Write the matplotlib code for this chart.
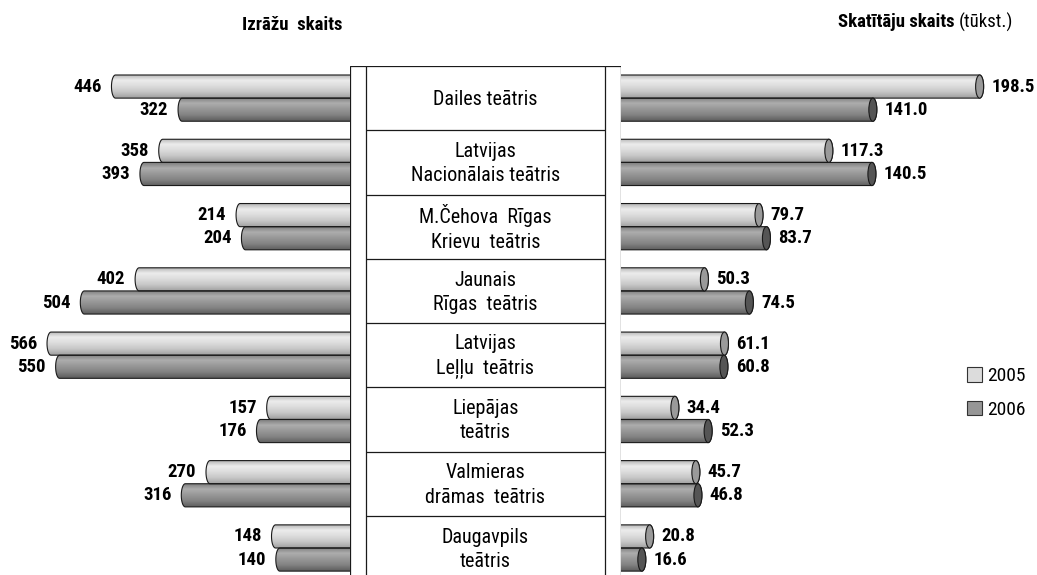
import numpy as np
import matplotlib.pyplot as plt
from matplotlib.patches import Rectangle, Ellipse, Polygon, Patch
from matplotlib.colors import LinearSegmentedColormap

plt.rcParams['font.family'] = ['Roboto Condensed', 'Liberation Sans Narrow', 'DejaVu Sans']
plt.rcParams['font.stretch'] = 'condensed'

teatri = ['Dailes teātris', 'Latvijas\nNacionālais teātris', 'M.Čehova  Rīgas\nKrievu  teātris',
          'Jaunais\nRīgas  teātris', 'Latvijas\nLeļļu  teātris', 'Liepājas\nteātris',
          'Valmieras\ndrāmas  teātris', 'Daugavpils\nteātris']
izrades_2005 = [446, 358, 214, 402, 566, 157, 270, 148]
izrades_2006 = [322, 393, 204, 504, 550, 176, 316, 140]
skatitaji_2005 = [198.5, 117.3, 79.7, 50.3, 61.1, 34.4, 45.7, 20.8]
skatitaji_2006 = [141.0, 140.5, 83.7, 74.5, 60.8, 52.3, 46.8, 16.6]
gadi = ['2005', '2006']

W, H = 1037, 575
fig = plt.figure(figsize=(W / 100, H / 100), dpi=100)


def px_ax(x0, x1, y0=66, y1=575):
    return fig.add_axes([x0 / W, 1 - y1 / H, (x1 - x0) / W, (y1 - y0) / H])


n = len(teatri)
axL = px_ax(0, 355)
axL.set_xlim(661, 0)
axR = px_ax(611, W)
axR.set_xlim(0, 229.4)
axC = px_ax(350, 621)
axC.set_xlim(0, 1)
for ax in (axL, axR, axC):
    ax.set_ylim(7.42, -0.5)
    ax.axis('off')
axC.set_zorder(3)

cm05 = LinearSegmentedColormap.from_list('c05', ['#b0b0b0', '#ececec', '#dcdcdc', '#c6c6c6', '#a0a0a0'])
cm06 = LinearSegmentedColormap.from_list('c06', ['#7a7a7a', '#adadad', '#979797', '#828282', '#5e5e5e'])
grad = np.linspace(0, 1, 64).reshape(-1, 1)


def cylinder(ax, y, val, h, cmap, cap_color=None, cap_px=4):
    # half width of the end ellipse, in data units
    sx = abs(ax.transData.transform((1, 0))[0] - ax.transData.transform((0, 0))[0])
    a = cap_px / sx
    b = h / 2
    t = np.linspace(np.pi / 2, -np.pi / 2, 30)
    arc = np.column_stack([val + a * np.cos(t), y - b * np.sin(t)])
    verts = np.vstack([[0, y - b], arc, [0, y + b]])
    body = Polygon(verts, closed=True, facecolor='none', edgecolor='#1a1a1a', lw=0.8, zorder=2)
    ax.add_patch(body)
    im = ax.imshow(grad, cmap=cmap, extent=(0, val + a, y + b, y - b), origin='upper',
                   aspect='auto', zorder=1)
    im.set_clip_path(body)
    if cap_color:
        ax.add_patch(Ellipse((val, y), 2 * a, h, facecolor=cap_color, edgecolor='#1a1a1a',
                             lw=0.8, zorder=3))


h = 0.36
for i in range(n):
    y05, y06 = i - h / 2, i + h / 2
    cylinder(axL, y05, izrades_2005[i], h, cm05)
    cylinder(axL, y06, izrades_2006[i], h, cm06)
    cylinder(axR, y05, skatitaji_2005[i], h, cm05, '#9a9a9a')
    cylinder(axR, y06, skatitaji_2006[i], h, cm06, '#555555')
    for ax, vals, off, ha, fmt in ((axL, (izrades_2005[i], izrades_2006[i]), -10, 'right', '{:d}'),
                                    (axR, (skatitaji_2005[i], skatitaji_2006[i]), 8.5, 'left', '{:.1f}')):
        for v, yy in zip(vals, (y05, y06)):
            ax.annotate(fmt.format(v), (v, yy), xytext=(off, 0), textcoords='offset points',
                        ha=ha, va='center', fontsize=13.5, fontweight='bold')

# central name column
sw = 16 / 271
for x0 in (0, 1 - sw):
    axC.add_patch(Rectangle((x0, -0.5), sw, 8.5, facecolor='white', edgecolor='#1a1a1a', lw=0.9))
axC.add_patch(Rectangle((sw, -0.5), 1 - 2 * sw, 8.5, facecolor='white', edgecolor='none', zorder=0))
axC.hlines(np.arange(n) - 0.5, sw, 1 - sw, color='#1a1a1a', lw=0.9)
for i, name in enumerate(teatri):
    axC.text(0.5, i + 0.02, name, ha='center', va='center', fontsize=14.5, linespacing=1.35)

# titles
fig.text(292 / W, 1 - 25 / H, 'Izrāžu  skaits', ha='center', va='center', fontsize=13.5, fontweight='bold')
t = fig.text(838 / W, 1 - 22 / H, 'Skatītāju skaits', ha='left', va='center', fontsize=13.5,
             fontweight='bold')
axR.annotate('(tūkst.)', xy=(1, 0.5), xycoords=t, xytext=(3, 0), textcoords='offset points',
             ha='left', va='center', fontsize=13.5, annotation_clip=False)

handles = [Patch(facecolor='#dcdcdc', edgecolor='#333333', lw=0.8),
           Patch(facecolor='#969696', edgecolor='#333333', lw=0.8)]
fig.legend(handles, gadi, loc='center left', bbox_to_anchor=(967 / W, 1 - 393 / H), frameon=False,
           fontsize=14, handlelength=0.75, handleheight=0.75, handletextpad=0.3, labelspacing=0.8,
           borderpad=0, borderaxespad=0)

fig.savefig('out.png', dpi=100)
